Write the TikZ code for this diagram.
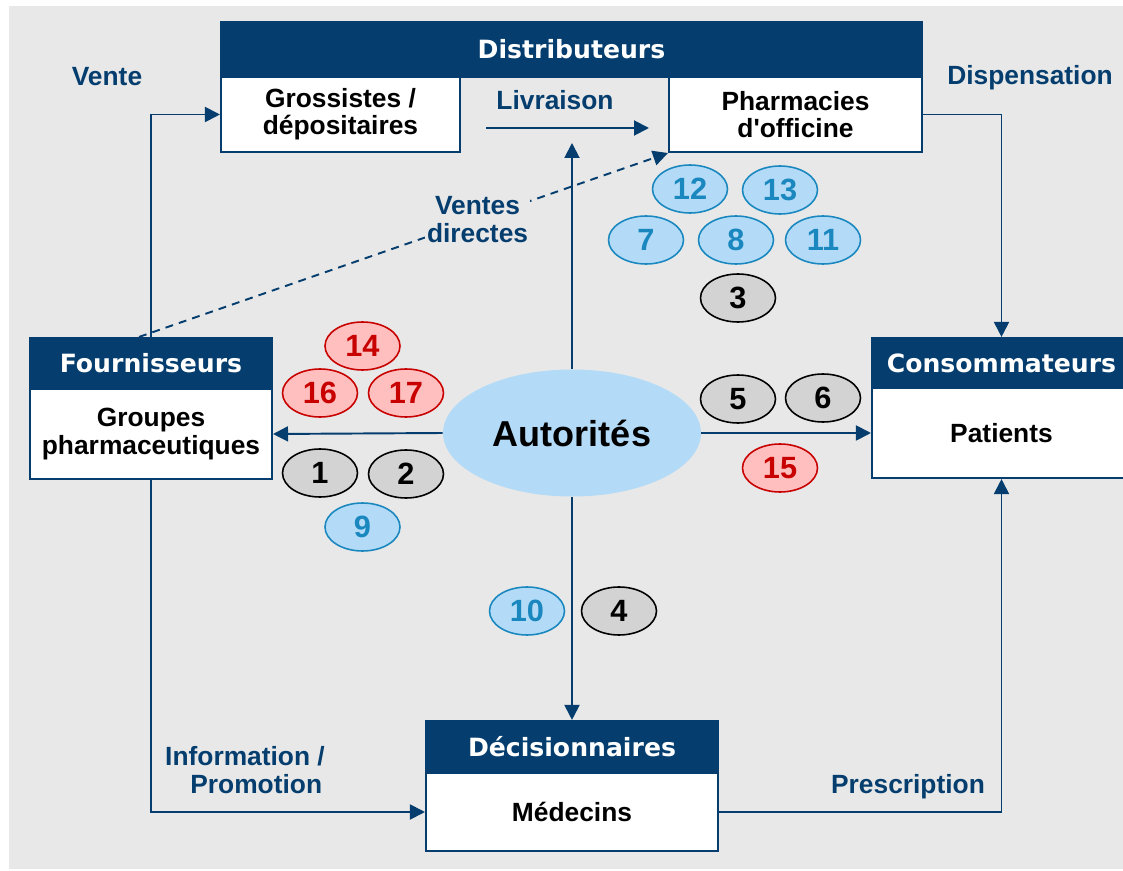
\documentclass[tikz,border=0pt]{standalone}
\usepackage{fontspec}
\setmainfont{Liberation Sans}
\newfontfamily\titrefont{DejaVu Sans}
\usetikzlibrary{shapes.geometric,arrows.meta}

\definecolor{bleufonce}{HTML}{053E6E}
\definecolor{fond}{HTML}{E8E8E8}
\definecolor{bleuclair}{HTML}{B3DBF8}
\definecolor{bleumoyen}{HTML}{1A88BF}
\definecolor{grisclair}{HTML}{D3D3D3}
\definecolor{roseclair}{HTML}{FFBFBF}
\definecolor{rougefonce}{HTML}{C80000}

\begin{document}
\begin{tikzpicture}[x=0.02cm,y=-0.02cm]

    \tikzset{titre/.style={fill=bleufonce,draw=bleufonce,line width=1.2pt,text=white,inner sep=0,
                 font=\titrefont\bfseries\fontsize{14.3}{17}\selectfont}}
    \tikzset{corps/.style={fill=white,draw=bleufonce,line width=1.2pt,inner sep=0,align=center,
                 font=\bfseries\fontsize{15}{15.5}\selectfont}}
    \tikzset{etiq/.style={text=bleufonce,align=center,inner sep=1pt,font=\bfseries\fontsize{15}{16}\selectfont}}
    \tikzset{num/.style={ellipse,minimum width=1.5cm,minimum height=0.96cm,inner sep=0,line width=0.9pt,
                 font=\bfseries\fontsize{17.5}{17.5}\selectfont}}
    \tikzset{numgris/.style={num,fill=grisclair,draw=black}}
    \tikzset{numbleu/.style={num,fill=bleuclair,draw=bleumoyen,text=bleumoyen}}
    \tikzset{numrouge/.style={num,fill=roseclair,draw=rougefonce,text=rougefonce}}
    \tikzset{fleche/.style={draw=bleufonce,line width=1.1pt,-{Triangle[length=0.3cm,width=0.3cm]}}}

    \useasboundingbox (0,0) rectangle (1123,871);
    \clip (0,0) rectangle (1123,871);
    \fill[fond] (9,6) rectangle (1123,869);

    \node[titre,minimum width=14.02cm,minimum height=1.1cm] (distrib) at (571.5, 49.5) {Distributeurs};
    \node[corps,minimum width=4.78cm,minimum height=1.5cm] (gross) at (340.5, 114.5) {Grossistes /\\d\'epositaires};
    \node[corps,minimum width=5.06cm,minimum height=1.5cm] (pharma) at (795.5, 114.5) {Pharmacies\\d\textquotesingle officine};

    \node[titre,minimum width=4.84cm,minimum height=1.02cm] (fourn) at (151, 363.5) {Fournisseurs};
    \node[corps,minimum width=4.84cm,minimum height=1.8cm] (groupes) at (151, 434) {Groupes\\pharmaceutiques};

    \node[titre,minimum width=5.18cm,minimum height=1.0cm] (conso) at (1001.5, 363) {Consommateurs};
    \node[corps,minimum width=5.18cm,minimum height=1.8cm] (patients) at (1001.5, 433) {Patients};

    \node[titre,minimum width=5.84cm,minimum height=1.04cm] (decis) at (572, 747) {D\'ecisionnaires};
    \node[corps,minimum width=5.84cm,minimum height=1.56cm] (medecins) at (572, 812) {M\'edecins};

    \node[ellipse,fill=bleuclair,minimum width=5.16cm,minimum height=2.54cm,inner sep=0,
          font=\bfseries\fontsize{20.5}{20.5}\selectfont] (autor) at (572, 433) {Autorit\'es};

    \node[numbleu] (n12) at (690, 189) {12};
    \node[numbleu] (n13) at (780, 190) {13};
    \node[numbleu] (n7) at (646, 240) {7};
    \node[numbleu] (n8) at (736, 240) {8};
    \node[numbleu] (n11) at (823, 240) {11};
    \node[numgris] (n3) at (738, 298) {3};

    \node[numrouge] (n14) at (362.5, 346) {14};
    \node[numrouge] (n16) at (320, 393) {16};
    \node[numrouge] (n17) at (406, 393) {17};
    \node[numgris] (n1) at (320, 473) {1};
    \node[numgris] (n2) at (406, 474) {2};
    \node[numbleu] (n9) at (362.5, 527) {9};

    \node[numgris] (n5) at (738, 399) {5};
    \node[numgris] (n6) at (823, 398) {6};
    \node[numrouge] (n15) at (780, 468) {15};

    \node[numbleu] (n10) at (527, 611) {10};
    \node[numgris] (n4) at (619, 611) {4};

    % extremites libres
    \coordinate (liv1) at (486, 128);
    \coordinate (liv2) at (649, 128);
    \coordinate (haut) at (572, 143);

    \begin{scope}[every path/.style={fleche}]
        \draw (fourn.north) |- (gross.west);
        \draw (pharma.east) -| (conso.north);
        \draw (liv1) -- (liv2);
        \draw[dashed,dash pattern=on 4.5pt off 3.5pt] ([xshift=-0.24cm]fourn.north) -- (pharma.south west)
            node[pos=0.64,etiq,fill=fond] {Ventes\\directes};
        \draw (autor.north) -- (haut);
        \draw (autor.south) -- (decis.north);
        \draw (autor.west) -- (groupes.east);
        \draw (autor.east) -- (patients.west);
        \draw (groupes.south) |- (medecins.west);
        \draw (medecins.east) -| (patients.south);
    \end{scope}

    \node[etiq] (vente) at (107, 77) {Vente};
    \node[etiq] (dispens) at (1030, 78) {Dispensation};
    \node[etiq] (livraison) at (555, 100) {Livraison};
    \node[etiq] (info) at (245, 770) {Information /\\\hspace*{0.45cm}Promotion};
    \node[etiq] (prescr) at (908, 787) {Prescription};

\end{tikzpicture}
\end{document}
